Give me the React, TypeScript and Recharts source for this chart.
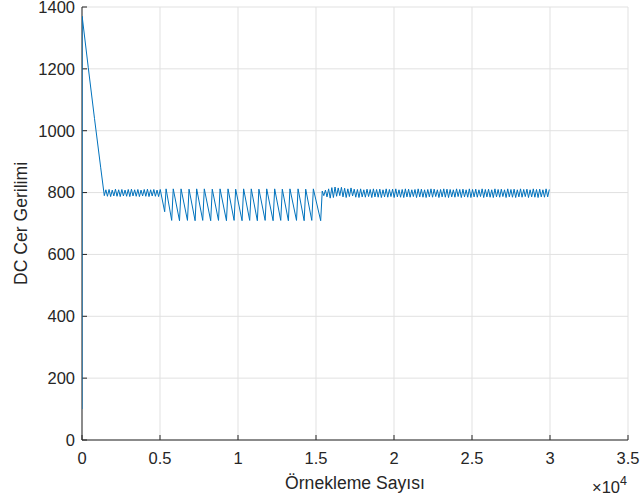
import React from 'react';
import { LineChart, Line, XAxis, YAxis, CartesianGrid, Label } from 'recharts';

// ---- axis ticks ----
const xTicks = [0, 5000, 10000, 15000, 20000, 25000, 30000, 35000];
const xTickLabels = ['0', '0.5', '1', '1.5', '2', '2.5', '3', '3.5'];
const yTicks = [0, 200, 400, 600, 800, 1000, 1200, 1400];

// ---- start-up ramp ----
const rampSamples = [0, 10, 400, 800, 1200, 1430];
const rampVolts = [100, 1370, 1205, 1040, 880, 790];

// ---- first ripple (before the load step) ----
const ripple1Samples = [1530, 1630, 1735, 1835, 1940, 2040, 2145, 2245, 2350, 2450, 2555, 2655, 2760, 2860, 2965, 3065, 3170, 3270, 3375, 3475, 3580, 3680, 3785, 3885, 3990, 4090, 4195, 4295, 4400, 4500, 4605, 4705, 4810, 4910, 5015];
const ripple1Volts = [809, 788, 810, 787, 808, 789, 811, 788, 809, 787, 810, 789, 808, 788, 810, 787, 811, 789, 809, 788, 810, 787, 808, 789, 810, 788, 811, 787, 809, 789, 810, 788, 808, 787, 810];

// ---- sawtooth section ----
const sawSamples = [5300, 5390, 5750, 5850, 6250, 6350, 6760, 6860, 7250, 7350, 7740, 7840, 8250, 8350, 8750, 8850, 9260, 9360, 9750, 9850, 10260, 10360, 10750, 10850, 11240, 11340, 11740, 11840, 12250, 12350, 12740, 12840, 13230, 13330, 13750, 13850, 14240, 14340, 14730, 14830, 15300, 15400];
const sawVolts = [738, 812, 710, 812, 709, 812, 710, 811, 709, 812, 710, 812, 709, 811, 710, 812, 709, 812, 710, 811, 709, 812, 710, 812, 709, 811, 710, 812, 709, 812, 710, 811, 709, 812, 710, 812, 709, 811, 710, 812, 709, 805];

// ---- second ripple ----
const ripple2Samples = [
  15500, 15605, 15705, 15810, 15910, 16015, 16115, 16220, 16320, 16425,
  16525, 16630, 16730, 16835, 16935, 17040, 17140, 17245, 17345, 17450,
  17550, 17655, 17755, 17860, 17960, 18065, 18165, 18270, 18370, 18475,
  18575, 18680, 18780, 18885, 18985, 19090, 19190, 19295, 19395, 19500,
  19600, 19705, 19805, 19910, 20010, 20115, 20215, 20320, 20420, 20525,
  20625, 20730, 20830, 20935, 21035, 21140, 21240, 21345, 21445, 21550,
  21650, 21755, 21855, 21960, 22060, 22165, 22265, 22370, 22470, 22575,
  22675, 22780, 22880, 22985, 23085, 23190, 23290, 23395, 23495, 23600,
  23700, 23805, 23905, 24010, 24110, 24215, 24315, 24420, 24520, 24625,
  24725, 24830, 24930, 25035, 25135, 25240, 25340, 25445, 25545, 25650,
  25750, 25855, 25955, 26060, 26160, 26265, 26365, 26470, 26570, 26675,
  26775, 26880, 26980, 27085, 27185, 27290, 27390, 27495, 27595, 27700,
  27800, 27905, 28005, 28110, 28210, 28315, 28415, 28520, 28620, 28725,
  28825, 28930, 29030, 29135, 29235, 29340, 29440, 29545, 29645, 29750,
  29850, 29955,
];
const ripple2Volts = [
  790, 808, 786, 812, 782, 816, 784, 818, 788, 815,
  790, 817, 786, 814, 784, 812, 787, 815, 789, 811,
  785, 810, 784, 812, 786, 809, 785, 811, 787, 810,
  784, 812, 786, 810, 785, 811, 784, 809, 786, 812,
  785, 810, 787, 811, 784, 812, 786, 809, 785, 810,
  784, 812, 786, 811, 785, 809, 787, 810, 784, 812,
  786, 811, 785, 809, 784, 810, 786, 812, 785, 811,
  787, 809, 784, 810, 786, 812, 785, 811, 784, 810,
  786, 809, 785, 812, 787, 810, 784, 811, 786, 809,
  785, 812, 784, 810, 786, 811, 785, 809, 787, 812,
  784, 810, 786, 811, 785, 809, 784, 812, 786, 810,
  785, 811, 787, 809, 784, 812, 786, 810, 785, 811,
  784, 809, 786, 812, 785, 810, 787, 811, 784, 809,
  786, 812, 785, 810, 784, 811, 786, 809, 785, 812,
  786, 810,
];

const segments: [number[], number[]][] = [
  [rampSamples, rampVolts],
  [ripple1Samples, ripple1Volts],
  [sawSamples, sawVolts],
  [ripple2Samples, ripple2Volts],
];
const data = segments.flatMap(([s, v]) => s.map((x, i) => ({ s: x, v: v[i] })));

const AXIS = '#262626';
const FONT = '"Liberation Sans", Arial, Helvetica, sans-serif';
const TICK_FS = 16.5;
const LABEL_FS = 17.6;

export default function App() {
  const lineExtra: any = { zIndex: 600 };
  return (
    <div style={{ position: 'absolute', left: 0, top: 0, width: 642, height: 501, background: '#fff' }}>
      <LineChart width={642} height={501} data={data} margin={{ top: 7, right: 14, bottom: 0, left: 0 }}>
        <CartesianGrid stroke="#e1e1e1" strokeWidth={1} horizontal vertical />
        <XAxis
          dataKey="s"
          type="number"
          domain={[0, 35000]}
          ticks={xTicks}
          interval={0}
          allowDataOverflow
          height={61}
          tickFormatter={(v: number) => xTickLabels[xTicks.indexOf(v)]}
          tickSize={-5}
          tickMargin={17}
          axisLine={{ stroke: AXIS }}
          tickLine={{ stroke: AXIS }}
          tick={{ fill: AXIS, fontSize: TICK_FS, fontFamily: FONT }}
        >
          <Label
            content={() => (
              <text x={355} y={489} textAnchor="middle" fill={AXIS} fontSize={LABEL_FS} fontFamily={FONT}>
                Örnekleme Sayısı
              </text>
            )}
          />
          <Label
            content={() => (
              <text x={627} y={493} textAnchor="end" fill={AXIS} fontSize={TICK_FS} fontFamily={FONT}>
                ×10<tspan dy={-8} fontSize={12.5}>4</tspan>
              </text>
            )}
          />
        </XAxis>
        <XAxis
          xAxisId="top"
          orientation="top"
          type="number"
          domain={[0, 35000]}
          ticks={xTicks}
          interval={0}
          allowDataOverflow
          height={0}
          tick={false}
          tickSize={-5}
          axisLine={{ stroke: AXIS }}
          tickLine={{ stroke: AXIS }}
        />
        <YAxis
          type="number"
          domain={[0, 1400]}
          ticks={yTicks}
          interval={0}
          allowDataOverflow
          width={82}
          tickSize={-5}
          tickMargin={12}
          axisLine={{ stroke: AXIS }}
          tickLine={{ stroke: AXIS }}
          tick={{ fill: AXIS, fontSize: TICK_FS, fontFamily: FONT }}
        >
          <Label
            content={() => (
              <text
                x={21}
                y={223.5}
                transform="rotate(-90 21 223.5)"
                textAnchor="middle"
                dominantBaseline="central"
                fill={AXIS}
                fontSize={LABEL_FS}
                fontFamily={FONT}
              >
                DC Cer Gerilimi
              </text>
            )}
          />
        </YAxis>
        <YAxis
          yAxisId="right"
          orientation="right"
          type="number"
          domain={[0, 1400]}
          ticks={yTicks}
          interval={0}
          allowDataOverflow
          width={0}
          tick={false}
          tickSize={-5}
          axisLine={{ stroke: AXIS }}
          tickLine={{ stroke: AXIS }}
        />
        <Line
          type="linear"
          dataKey="v"
          stroke="#0072BD"
          strokeWidth={1}
          dot={false}
          isAnimationActive={false}
          {...lineExtra}
        />
      </LineChart>
    </div>
  );
}
